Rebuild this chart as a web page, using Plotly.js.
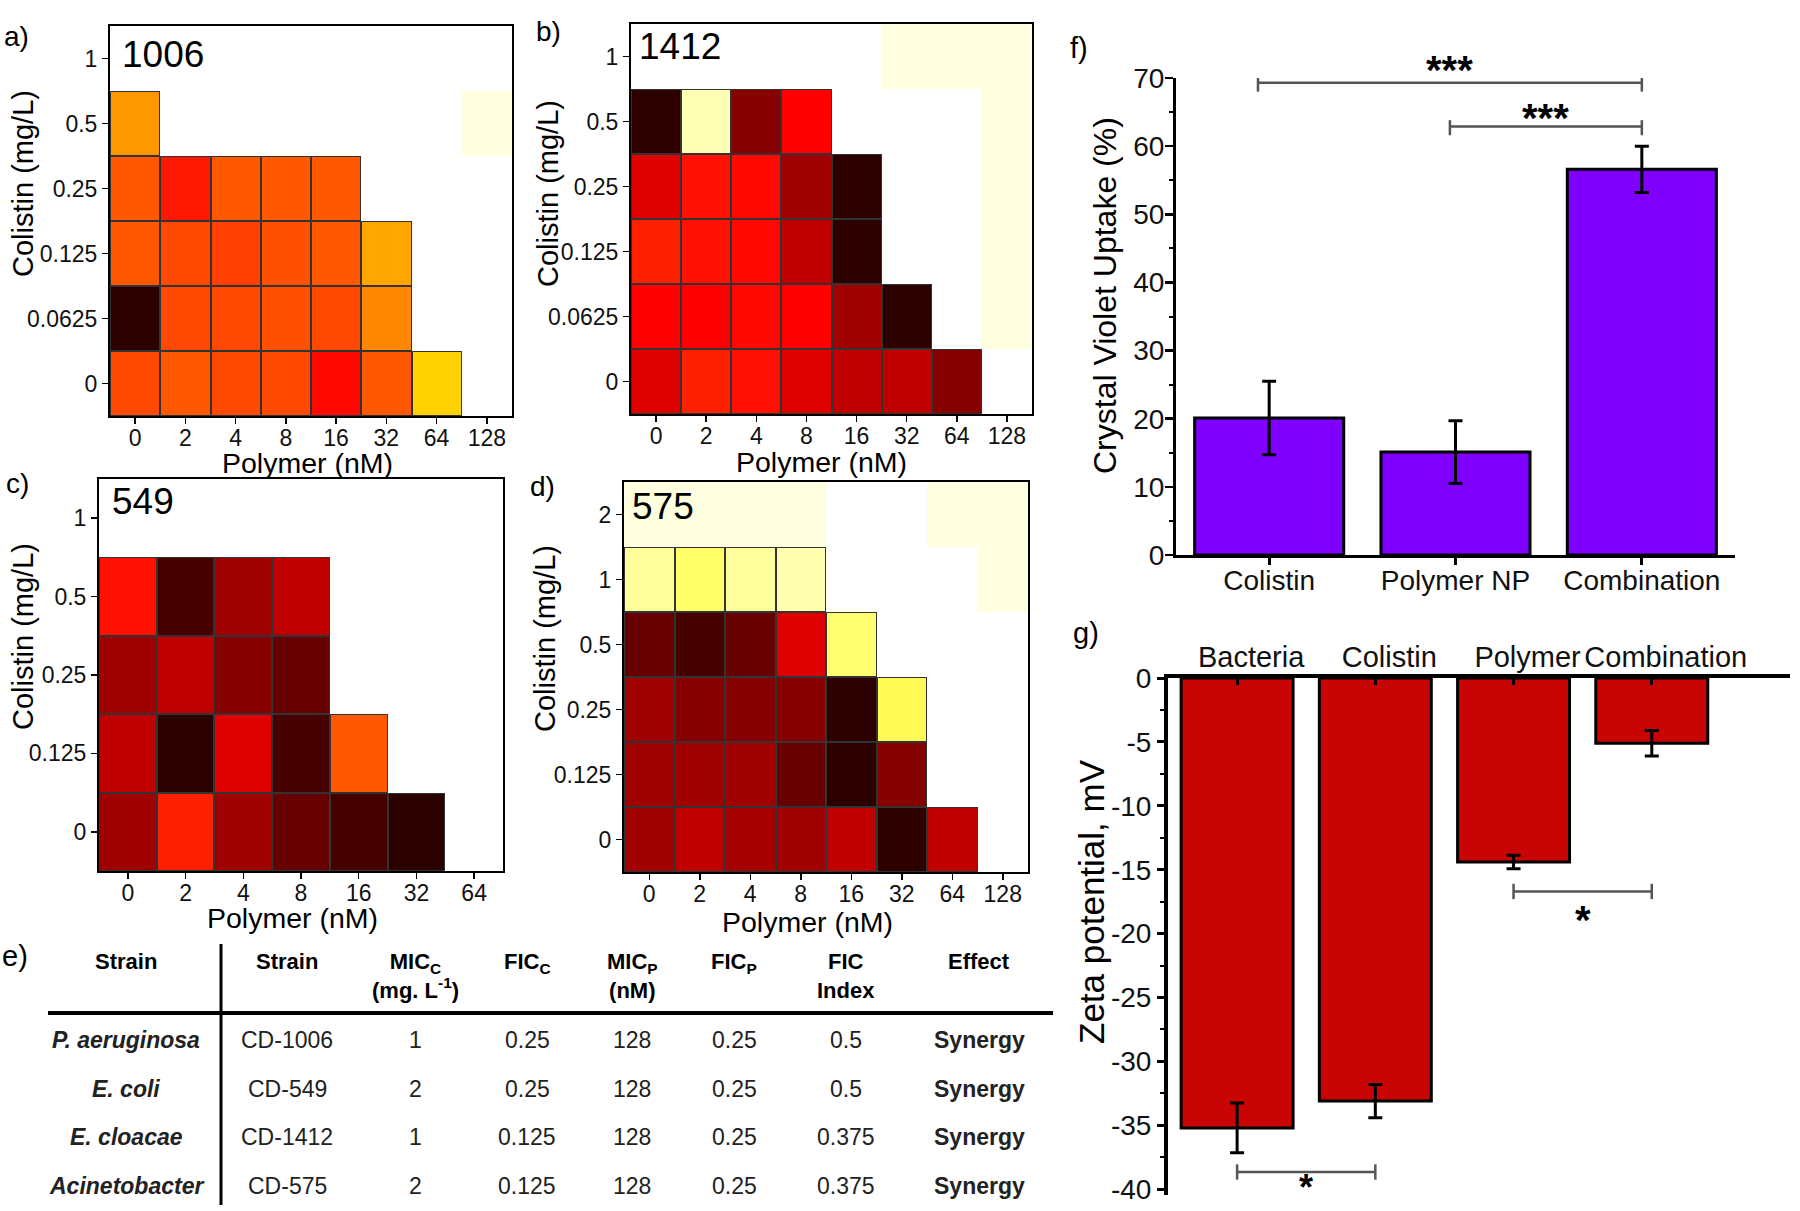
<!DOCTYPE html>
<html><head><meta charset="utf-8">
<script src="https://cdn.plot.ly/plotly-3.0.1.min.js"></script>
<style>html,body{margin:0;padding:0;background:#fff}#chart{width:1800px;height:1211px}</style>
</head><body><div id="chart"></div>
<script>
// ================= DATA =================
// Checkerboard panels: rows run from the lowest colistin level (first) to the highest (last)
const polymer8 = ['0','2','4','8','16','32','64','128'];
const polymer7 = ['0','2','4','8','16','32','64'];
const colistin1006 = ['0','0.0625','0.125','0.25','0.5','1'];
const colistin1412 = ['0','0.0625','0.125','0.25','0.5','1'];
const colistin549 = ['0','0.125','0.25','0.5','1'];
const colistin575 = ['0','0.125','0.25','0.5','1','2'];

const growth1006 = [
  [0.49, 0.51, 0.49, 0.49, 0.41, 0.51, 0.69, null],
  [0.00, 0.49, 0.49, 0.50, 0.49, 0.57, null, null],
  [0.51, 0.49, 0.48, 0.50, 0.51, 0.61, null, null],
  [0.51, 0.43, 0.51, 0.51, 0.51, null, null, null],
  [0.59, null, null, null, null, null, null, 1.00],
  [null, null, null, null, null, null, null, null]
];
const growth1412 = [
  [0.34, 0.44, 0.42, 0.34, 0.28, 0.28, 0.17, null],
  [0.40, 0.40, 0.41, 0.40, 0.22, 0.00, null, 1.00],
  [0.44, 0.42, 0.41, 0.28, 0.00, null, null, 1.00],
  [0.34, 0.42, 0.41, 0.22, 0.00, null, null, 1.00],
  [0.00, 0.92, 0.17, 0.40, null, null, null, 1.00],
  [null, null, null, null, null, 1.00, 1.00, 1.00]
];
const growth549 = [
  [0.22, 0.44, 0.22, 0.11, 0.05, 0.00, null],
  [0.28, 0.00, 0.34, 0.05, 0.51, null, null],
  [0.22, 0.28, 0.17, 0.11, null, null, null],
  [0.42, 0.05, 0.22, 0.28, null, null, null],
  [null, null, null, null, null, null, null]
];
const growth575 = [
  [0.22, 0.28, 0.23, 0.22, 0.28, 0.00, 0.28, null],
  [0.22, 0.22, 0.22, 0.11, 0.00, 0.17, null, null],
  [0.22, 0.17, 0.17, 0.17, 0.00, 0.79, null, null],
  [0.11, 0.05, 0.11, 0.34, 0.82, null, null, null],
  [0.88, 0.81, 0.88, 0.91, null, null, null, 1.00],
  [1.00, 1.00, 1.00, 1.00, null, null, 1.00, 1.00]
];

// Panel f
const cvGroups = ['Colistin', 'Polymer NP', 'Combination'];
const cvUptake = [20.1, 15.1, 56.6];
const cvError = [5.4, 4.6, 3.4];
const cvTicks = [0, 10, 20, 30, 40, 50, 60, 70];

// Panel g
const zetaGroups = ['Bacteria', 'Colistin', 'Polymer', 'Combination'];
const zetaValues = [-35.2, -33.1, -14.4, -5.1];
const zetaError = [1.95, 1.3, 0.53, 1.0];
const zetaTickVals = [0, -5, -10, -15, -20, -25, -30, -35, -40];
const zetaTickText = ['0', '-5', '-10', '-15', '-20', '-25', '-30', '-35', '-40'];

// Panel e (table)
const tableHeader = ['<b>Strain</b>', '<b>Strain</b>', '<b>MIC<sub>C</sub></b><br><b>(mg. L<sup>-1</sup>)</b>',
  '<b>FIC<sub>C</sub></b>', '<b>MIC<sub>P</sub></b><br><b>(nM)</b>', '<b>FIC<sub>P</sub></b>',
  '<b>FIC</b><br><b>Index</b>', '<b>Effect</b>'];
const strainSpecies = ['P. aeruginosa', 'E. coli', 'E. cloacae', 'Acinetobacter'];
const strainCodes = ['CD-1006', 'CD-549', 'CD-1412', 'CD-575'];
const micColistin = ['1', '2', '1', '2'];
const ficColistin = ['0.25', '0.25', '0.125', '0.125'];
const micPolymer = ['128', '128', '128', '128'];
const ficPolymer = ['0.25', '0.25', '0.25', '0.25'];
const ficIndex = ['0.5', '0.5', '0.375', '0.375'];
const effectText = ['Synergy', 'Synergy', 'Synergy', 'Synergy'];

// ================= BUILD =================
const FONT = 'Liberation Sans, Arial, Helvetica, sans-serif';
const W = 1800, H = 1211;
const fx = p => p / W;
const fy = p => 1 - p / H;
const hot = [[0, 'rgb(45,0,0)'], [0.4, 'rgb(255,0,0)'], [0.6, 'rgb(255,160,0)'], [0.7, 'rgb(255,215,0)'],
  [0.8, 'rgb(255,255,96)'], [0.9, 'rgb(255,255,170)'], [1, 'rgb(255,255,224)']];
const PALE = 0.97;

const traces = [];
const layout = {
  width: W, height: H, margin: {l: 0, r: 0, t: 0, b: 0},
  paper_bgcolor: '#fff', plot_bgcolor: 'rgba(0,0,0,0)', showlegend: false,
  font: {family: FONT, color: '#000'}, annotations: [], shapes: []
};
function ann(text, x, y, opts) {
  const a = Object.assign({text: text, x: fx(x), y: fy(y), xref: 'paper', yref: 'paper', showarrow: false,
    xanchor: 'center', yanchor: 'middle'}, opts || {});
  a.font = Object.assign({family: FONT, size: 28, color: '#000'}, (opts && opts.font) || {});
  layout.annotations.push(a);
}

const heatPanels = [
  {n: 1, xs: polymer8, ys: colistin1006, z: growth1006, box: [110, 512, 26, 416], name: '1006', nameAt: [120, 54],
    letter: 'a)', letterAt: [16, 37], xt: [307, 463], yt: [23, 184]},
  {n: 2, xs: polymer8, ys: colistin1412, z: growth1412, box: [631, 1032, 24, 414], name: '1412', nameAt: [637, 47],
    letter: 'b)', letterAt: [548, 32], xt: [821, 462], yt: [548, 194]},
  {n: 3, xs: polymer7, ys: colistin549, z: growth549, box: [99, 503, 479, 871], name: '549', nameAt: [110, 502],
    letter: 'c)', letterAt: [17, 483], xt: [292, 918], yt: [23, 637]},
  {n: 4, xs: polymer8, ys: colistin575, z: growth575, box: [624, 1028, 482, 872], name: '575', nameAt: [630, 507],
    letter: 'd)', letterAt: [542, 487], xt: [807, 922], yt: [545, 639]}
];

heatPanels.forEach(p => {
  const sfx = p.n === 1 ? '' : String(p.n);
  const xa = 'x' + sfx, ya = 'y' + sfx;
  const border = p.z.map(r => r.map(v => (v !== null && v < PALE) ? 1 : null));
  const pale = p.z.map(r => r.map(v => (v !== null && v >= PALE) ? 1 : null));
  const main = p.z.map(r => r.map(v => (v !== null && v < PALE) ? v : null));
  const common = {type: 'heatmap', x: p.xs, y: p.ys, xaxis: xa, yaxis: ya, showscale: false, hoverinfo: 'skip', zmin: 0, zmax: 1};
  traces.push(Object.assign({}, common, {z: border, colorscale: [[0, '#333333'], [1, '#333333']]}));
  traces.push(Object.assign({}, common, {z: pale, colorscale: [[0, 'rgb(255,255,224)'], [1, 'rgb(255,255,224)']]}));
  traces.push(Object.assign({}, common, {z: main, colorscale: hot, xgap: 2, ygap: 2}));
  const axBase = {type: 'category', showline: true, mirror: true, linecolor: '#000', linewidth: 2,
    ticks: 'outside', ticklen: 6, tickwidth: 1.5, tickcolor: '#000', showgrid: false, zeroline: false,
    tickfont: {family: FONT, size: 23, color: '#111'}, fixedrange: true};
  layout['xaxis' + sfx] = Object.assign({}, axBase, {domain: [fx(p.box[0]), fx(p.box[1])], anchor: ya,
    categoryorder: 'array', categoryarray: p.xs, range: [-0.5, p.xs.length - 0.5], ticklabelstandoff: -6});
  layout['yaxis' + sfx] = Object.assign({}, axBase, {domain: [fy(p.box[3]), fy(p.box[2])], anchor: xa,
    categoryorder: 'array', categoryarray: p.ys, range: [-0.5, p.ys.length - 0.5]});
  ann('Polymer (nM)', p.xt[0], p.xt[1], {font: {size: 28.5}});
  ann('Colistin (mg/L)', p.yt[0], p.yt[1], {textangle: -90, font: {size: 29}});
  ann(p.name, p.nameAt[0], p.nameAt[1], {xanchor: 'left', font: {size: 37}});
  ann(p.letter, p.letterAt[0], p.letterAt[1], {font: {size: 28}});
});

// ----- panel f -----
const fRange = [0, 70];
traces.push({type: 'bar', x: cvGroups, y: cvUptake, width: 0.8, xaxis: 'x5', yaxis: 'y5',
  marker: {color: '#7F00FF', line: {color: '#000', width: 3}},
  error_y: {type: 'data', array: cvError, visible: true, color: '#000', thickness: 3, width: 7}});
layout.xaxis5 = {domain: [fx(1176), fx(1735)], anchor: 'y5', type: 'category', range: [-0.5, 2.5],
  showline: true, linecolor: '#000', linewidth: 3, ticks: 'outside', ticklen: 7, tickwidth: 3, tickcolor: '#000',
  ticklabelstandoff: -9,
  tickfont: {family: FONT, size: 28, color: '#111'}, showgrid: false, zeroline: false, fixedrange: true};
layout.yaxis5 = {domain: [fy(555), fy(78)], anchor: 'x5', range: fRange, tickvals: cvTicks,
  showline: true, linecolor: '#000', linewidth: 3, ticks: 'outside', ticklen: 8, tickwidth: 2.5, tickcolor: '#000',
  ticklabelstandoff: -5,
  minor: {tickmode: 'linear', tick0: 0, dtick: 5, ticks: 'outside', ticklen: 4, tickwidth: 2, tickcolor: '#000'},
  tickfont: {family: FONT, size: 28, color: '#111'}, showgrid: false, zeroline: false, fixedrange: true};
ann('Crystal Violet Uptake (%)', 1105, 296, {textangle: -90, font: {size: 32}});
ann('f)', 1079, 48, {font: {size: 29}});

// significance brackets (f)
const sigF = [{a: -0.06, b: 2, y: 69.3, ty: 71.2, h: 1.3, t: '***'}, {a: 0.97, b: 2, y: 62.9, ty: 64.2, h: 1.3, t: '***'}];
sigF.forEach(s => {
  const ln = {color: '#555', width: 2.5};
  layout.shapes.push({type: 'line', xref: 'x5', yref: 'y5', x0: s.a, x1: s.b, y0: s.y, y1: s.y, line: ln});
  layout.shapes.push({type: 'line', xref: 'x5', yref: 'y5', x0: s.a, x1: s.a, y0: s.y - s.h, y1: s.y + s.h * 0.7, line: ln});
  layout.shapes.push({type: 'line', xref: 'x5', yref: 'y5', x0: s.b, x1: s.b, y0: s.y - s.h, y1: s.y + s.h * 0.7, line: ln});
  layout.annotations.push({text: '<b>' + s.t + '</b>', xref: 'x5', yref: 'y5 domain', x: (s.a + s.b) / 2,
    y: (s.ty - fRange[0]) / (fRange[1] - fRange[0]),
    showarrow: false, xanchor: 'center', yanchor: 'middle', font: {family: FONT, size: 40, color: '#000'}});
});

// ----- panel g -----
const gRange = [-40.45, 0];
traces.push({type: 'bar', x: zetaGroups, y: zetaValues, width: 0.81, xaxis: 'x6', yaxis: 'y6',
  marker: {color: '#C80404', line: {color: '#000', width: 3}},
  error_y: {type: 'data', array: zetaError, visible: true, color: '#000', thickness: 3, width: 7}});
layout.xaxis6 = {domain: [fx(1168), fx(1790)], anchor: 'y6', side: 'top', type: 'category', range: [-0.5, 4.0],
  showline: true, linecolor: '#000', linewidth: 4, ticks: 'inside', ticklen: 7, tickwidth: 3, tickcolor: '#000',
  ticklabelstandoff: -5, ticklabelshift: 14,
  tickfont: {family: FONT, size: 29, color: '#111'}, showgrid: false, zeroline: false, fixedrange: true};
layout.yaxis6 = {domain: [fy(1195), fy(678)], anchor: 'x6', range: gRange, tickmode: 'array',
  tickvals: zetaTickVals, ticktext: zetaTickText,
  showline: true, linecolor: '#000', linewidth: 4, ticks: 'outside', ticklen: 7, tickwidth: 3, tickcolor: '#000',
  minor: {tickmode: 'linear', tick0: 0, dtick: 2.5, ticks: 'outside', ticklen: 4, tickwidth: 2, tickcolor: '#000'},
  tickfont: {family: FONT, size: 28, color: '#111'}, showgrid: false, zeroline: false, fixedrange: true};
ann('Zeta potential, mV', 1091, 902, {textangle: -90, font: {size: 35}});
ann('g)', 1086, 633, {font: {size: 29}});

const sigG = [{a: 0, b: 1, y: -38.65, ty: -39.9, h: 0.6, t: '*', fs: 36}, {a: 2, b: 3, y: -16.7, ty: -18.9, h: 0.6, t: '*', fs: 40}];
sigG.forEach(s => {
  const ln = {color: '#555', width: 2.5};
  layout.shapes.push({type: 'line', xref: 'x6', yref: 'y6', x0: s.a, x1: s.b, y0: s.y, y1: s.y, line: ln});
  layout.shapes.push({type: 'line', xref: 'x6', yref: 'y6', x0: s.a, x1: s.a, y0: s.y - s.h, y1: s.y + s.h, line: ln});
  layout.shapes.push({type: 'line', xref: 'x6', yref: 'y6', x0: s.b, x1: s.b, y0: s.y - s.h, y1: s.y + s.h, line: ln});
  layout.annotations.push({text: '<b>' + s.t + '</b>', xref: 'x6', yref: 'y6 domain', x: (s.a + s.b) / 2,
    y: (s.ty - gRange[0]) / (gRange[1] - gRange[0]),
    showarrow: false, xanchor: 'center', yanchor: 'middle', font: {family: FONT, size: s.fs, color: '#000'}});
});

// ----- panel e (table) -----
ann('e)', 15, 956, {font: {size: 29}});
const tableColX = [126, 287, 415, 527, 632, 734, 846, 979];
const tableRowY = [1040, 1089, 1137, 1186];
tableHeader.forEach((h, i) => ann(h, tableColX[i], 947, {yanchor: 'top', font: {size: 22}}));
const tableBody = [strainSpecies.map(s => '<b><i>' + s + '</i></b>'), strainCodes, micColistin, ficColistin,
  micPolymer, ficPolymer, ficIndex, effectText.map(e => '<b>' + e + '</b>')];
tableBody.forEach((col, c) => col.forEach((txt, r) => ann(txt, tableColX[c], tableRowY[r], {font: {size: 23, color: '#222'}})));
layout.shapes.push({type: 'line', xref: 'paper', yref: 'paper', x0: fx(48), x1: fx(1053), y0: fy(1013), y1: fy(1013),
  line: {color: '#000', width: 4}});
layout.shapes.push({type: 'line', xref: 'paper', yref: 'paper', x0: fx(221), x1: fx(221), y0: fy(944), y1: fy(1205),
  line: {color: '#000', width: 3}});

Plotly.newPlot('chart', traces, layout, {staticPlot: true, displayModeBar: false});
</script>
</body></html>
